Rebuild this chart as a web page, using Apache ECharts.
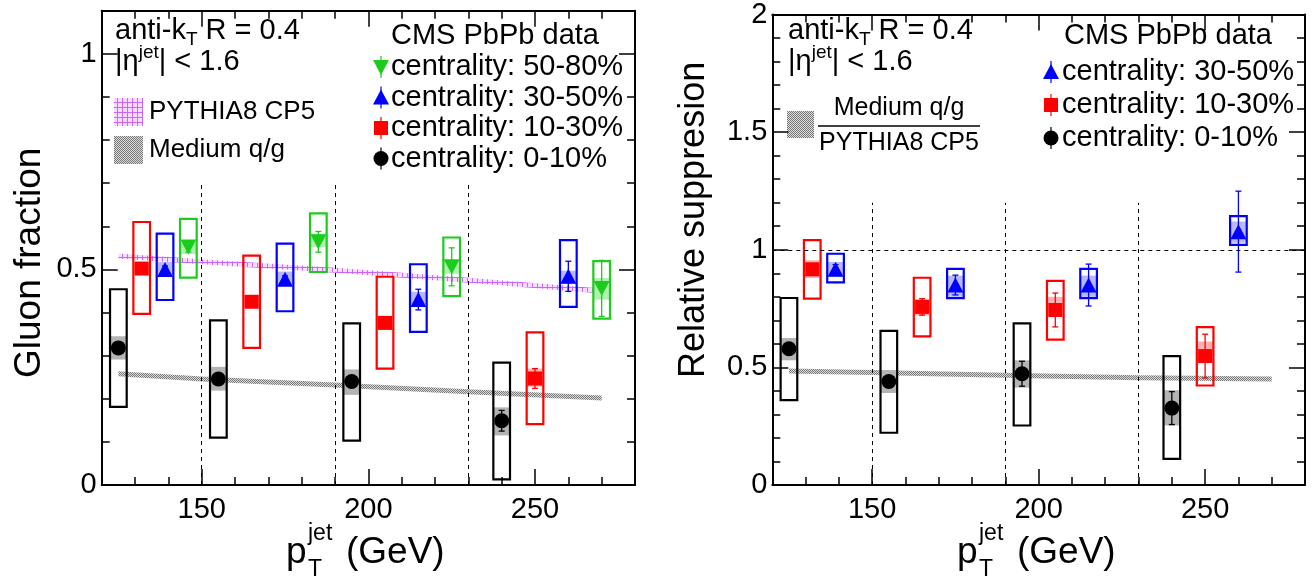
<!DOCTYPE html>
<html>
<head>
<meta charset="utf-8">
<title>Gluon fraction vs jet pT</title>
<script src="https://cdn.jsdelivr.net/npm/echarts@6.0.0/dist/echarts.min.js"></script>
<style>
html, body { margin: 0; padding: 0; background: #fff; }
#chart { width: 1312px; height: 579px; }
</style>
</head>
<body>
<div id="chart"></div>
<script>
// jet pT (GeV) of the points, one per bin, shifted per centrality class
var ptCent0 = [125, 155, 195, 240];
var ptCent10 = [132, 165, 205, 250];
var ptCent30 = [139, 175, 215, 260];
var ptCent50 = [146, 185, 225, 270];
var binEdges = [150, 190, 230];

// left panel: gluon fraction
var gfCent0 = [0.318, 0.246, 0.240, 0.149];
var gfCent0Err = [0.008, 0.008, 0.008, 0.024];
var gfCent0Band = [[0.291, 0.345], [0.219, 0.274], [0.209, 0.268], [0.115, 0.180]];
var gfCent0Sys = [[0.181, 0.454], [0.110, 0.382], [0.103, 0.375], [0.013, 0.284]];

var gfCent10 = [0.502, 0.425, 0.376, 0.247];
var gfCent10Err = [0.008, 0.008, 0.008, 0.023];
var gfCent10Band = [[0.488, 0.516], [0.410, 0.440], [0.360, 0.392], [0.228, 0.270]];
var gfCent10Sys = [[0.397, 0.610], [0.318, 0.532], [0.270, 0.483], [0.141, 0.354]];

var gfCent30 = [0.500, 0.477, 0.430, 0.484];
var gfCent30Err = [0.008, 0.008, 0.024, 0.035];
var gfCent30Band = [[0.486, 0.517], [0.464, 0.495], [0.418, 0.448], [0.466, 0.497]];
var gfCent30Sys = [[0.429, 0.583], [0.403, 0.560], [0.355, 0.512], [0.413, 0.568]];

var gfCent50 = [0.552, 0.564, 0.506, 0.456];
var gfCent50Err = [0.012, 0.024, 0.044, 0.065];
var gfCent50Band = [[0.536, 0.563], [0.552, 0.583], [0.490, 0.521], [0.430, 0.480]];
var gfCent50Sys = [[0.481, 0.617], [0.494, 0.630], [0.438, 0.574], [0.386, 0.519]];

// right panel: relative suppression
var rsCent0 = [0.579, 0.440, 0.473, 0.327];
var rsCent0Err = [0.015, 0.015, 0.053, 0.070];
var rsCent0Band = [[0.530, 0.625], [0.391, 0.488], [0.414, 0.530], [0.253, 0.403]];
var rsCent0Sys = [[0.361, 0.795], [0.222, 0.655], [0.253, 0.687], [0.111, 0.548]];

var rsCent10 = [0.917, 0.757, 0.744, 0.548];
var rsCent10Err = [0.020, 0.035, 0.072, 0.093];
var rsCent10Band = [[0.880, 0.955], [0.720, 0.790], [0.720, 0.800], [0.520, 0.610]];
var rsCent10Sys = [[0.792, 1.041], [0.632, 0.881], [0.618, 0.868], [0.423, 0.671]];

var rsCent30 = [0.917, 0.850, 0.850, 1.077];
var rsCent30Err = [0.020, 0.042, 0.089, 0.172];
var rsCent30Band = [[0.885, 0.948], [0.800, 0.890], [0.800, 0.890], [1.030, 1.120]];
var rsCent30Sys = [[0.861, 0.983], [0.794, 0.919], [0.794, 0.919], [1.021, 1.143]];

// model curves
var theoryPt = [125, 150, 190, 230, 270];
var pythiaGf = [0.531, 0.518, 0.498, 0.475, 0.450];
var mediumGf = [0.258, 0.246, 0.232, 0.216, 0.202];
var mediumRatio = [0.485, 0.478, 0.466, 0.456, 0.451];

// tick labels
var ptTickLabels = [150, 200, 250];
var gfTickLabels = [0, 0.5, 1];
var rsTickLabels = [0, 0.5, 1, 1.5, 2];

var FONT = '"Liberation Sans", Arial, Helvetica, sans-serif';
var GREEN = '#1ccc1c';

function checker(dark, light) {
  var c = document.createElement('canvas');
  c.width = 2; c.height = 2;
  var ctx = c.getContext('2d');
  ctx.fillStyle = light; ctx.fillRect(0, 0, 2, 2);
  ctx.fillStyle = dark; ctx.fillRect(0, 0, 1, 1); ctx.fillRect(1, 1, 1, 1);
  return { image: c, repeat: 'repeat' };
}
function plus(fg, bg) {
  var c = document.createElement('canvas');
  c.width = 5; c.height = 5;
  var ctx = c.getContext('2d');
  ctx.fillStyle = bg; ctx.fillRect(0, 0, 5, 5);
  ctx.fillStyle = fg; ctx.fillRect(2, 0, 1, 5); ctx.fillRect(0, 2, 5, 1);
  return { image: c, repeat: 'repeat' };
}
var grayHatch = checker('#777', '#dcdcdc');
var pinkHatch = plus('#c868f4', '#f6dcff');

function xAxes(g) {
  var list = [];
  ['bottom', 'top'].forEach(function (pos) {
    list.push({
      gridIndex: g, type: 'value', position: pos, min: 120, max: 280, interval: 10,
      axisLine: { show: true, onZero: false, lineStyle: { color: '#000', width: 2 } },
      axisTick: { inside: true, length: 8, lineStyle: { color: '#000', width: 1.5 } },
      axisLabel: { show: false }, splitLine: { show: false }
    });
    list.push({
      gridIndex: g, type: 'value', position: pos, min: 120, max: 280,
      axisLine: { show: false, onZero: false },
      axisTick: { inside: true, length: 16, customValues: ptTickLabels, lineStyle: { color: '#000', width: 1.5 } },
      axisLabel: { show: pos === 'bottom', customValues: ptTickLabels, fontSize: 29, fontFamily: FONT, color: '#000', margin: 10 },
      splitLine: { show: false }
    });
  });
  return list;
}
function yAxes(g, max, labels) {
  var list = [];
  ['left', 'right'].forEach(function (pos) {
    list.push({
      gridIndex: g, type: 'value', position: pos, min: 0, max: max, interval: 0.1,
      axisLine: { show: true, onZero: false, lineStyle: { color: '#000', width: 2 } },
      axisTick: { inside: true, length: 8, lineStyle: { color: '#000', width: 1.5 } },
      axisLabel: { show: false }, splitLine: { show: false }
    });
    list.push({
      gridIndex: g, type: 'value', position: pos, min: 0, max: max,
      axisLine: { show: false, onZero: false },
      axisTick: { inside: true, length: 16, customValues: labels, lineStyle: { color: '#000', width: 1.5 } },
      axisLabel: { show: pos === 'left', customValues: labels, fontSize: 29, fontFamily: FONT, color: '#000', margin: 5,
        formatter: function (v) { return String(+v.toFixed(1)); } },
      splitLine: { show: false }
    });
  });
  return list;
}

function bandSeries(ai, xs, pairs, fill) {
  return {
    type: 'custom', xAxisIndex: ai, yAxisIndex: ai, z: 3, silent: true,
    data: xs.map(function (x, i) { return [x, pairs[i][0], pairs[i][1]]; }),
    renderItem: function (params, api) {
      var a = api.coord([api.value(0) - 2.5, api.value(2)]);
      var b = api.coord([api.value(0) + 2.5, api.value(1)]);
      return { type: 'rect', shape: { x: a[0], y: a[1], width: b[0] - a[0], height: b[1] - a[1] }, style: { fill: fill } };
    }
  };
}
function boxSeries(ai, xs, pairs, color) {
  return {
    type: 'custom', xAxisIndex: ai, yAxisIndex: ai, z: 4, silent: true,
    data: xs.map(function (x, i) { return [x, pairs[i][0], pairs[i][1]]; }),
    renderItem: function (params, api) {
      var a = api.coord([api.value(0) - 2.5, api.value(2)]);
      var b = api.coord([api.value(0) + 2.5, api.value(1)]);
      return { type: 'rect', shape: { x: a[0], y: a[1], width: b[0] - a[0], height: b[1] - a[1] },
        style: { fill: 'none', stroke: color, lineWidth: 2.2 } };
    }
  };
}
function errSeries(ai, xs, vals, errs, color) {
  return {
    type: 'custom', xAxisIndex: ai, yAxisIndex: ai, z: 5, silent: true,
    data: xs.map(function (x, i) { return [x, vals[i] - errs[i], vals[i] + errs[i]]; }),
    renderItem: function (params, api) {
      var lo = api.coord([api.value(0), api.value(1)]);
      var hi = api.coord([api.value(0), api.value(2)]);
      var st = { stroke: color, lineWidth: 1.3 };
      return { type: 'group', children: [
        { type: 'line', shape: { x1: lo[0], y1: lo[1], x2: hi[0], y2: hi[1] }, style: st },
        { type: 'line', shape: { x1: lo[0] - 3, y1: lo[1], x2: lo[0] + 3, y2: lo[1] }, style: st },
        { type: 'line', shape: { x1: hi[0] - 3, y1: hi[1], x2: hi[0] + 3, y2: hi[1] }, style: st }
      ] };
    }
  };
}
function markerSeries(ai, xs, vals, color, symbol, size, rotate) {
  return {
    type: 'scatter', xAxisIndex: ai, yAxisIndex: ai, z: 6, silent: true,
    symbol: symbol, symbolSize: size, symbolRotate: rotate || 0,
    itemStyle: { color: color, opacity: 1 },
    data: xs.map(function (x, i) { return [x, vals[i]]; })
  };
}
function curveSeries(ai, xs, ys, fill) {
  return {
    type: 'custom', xAxisIndex: ai, yAxisIndex: ai, z: 2, silent: true,
    data: xs.map(function (x, i) { return [x, ys[i]]; }),
    renderItem: function (params, api) {
      if (params.dataIndex !== 0) return;
      var up = [], dn = [];
      for (var i = 0; i < xs.length; i++) {
        var p = api.coord([xs[i], ys[i]]);
        up.push([p[0], p[1] - 2.5]);
        dn.unshift([p[0], p[1] + 2.5]);
      }
      return { type: 'polygon', shape: { points: up.concat(dn) }, style: { fill: fill } };
    }
  };
}
function dashSeries(ai, lines) {
  return {
    type: 'line', xAxisIndex: ai, yAxisIndex: ai, data: [], silent: true,
    markLine: {
      silent: true, symbol: 'none', label: { show: false }, animation: false,
      lineStyle: { color: '#000', type: [4, 4], width: 1 },
      data: lines
    }
  };
}

function classSeries(ai, xs, v, err, band, sys, color, bandColor, symbol, size, rot) {
  return [
    bandSeries(ai, xs, band, bandColor),
    boxSeries(ai, xs, sys, color),
    errSeries(ai, xs, v, err, color),
    markerSeries(ai, xs, v, color, symbol, size, rot)
  ];
}

var series = [];
// left panel (axes 0..3)
series.push(dashSeries(0, binEdges.map(function (e) { return [{ coord: [e, 0] }, { coord: [e, 0.7] }]; })));
series.push(curveSeries(0, theoryPt, pythiaGf, pinkHatch));
series.push(curveSeries(0, theoryPt, mediumGf, grayHatch));
series = series.concat(
  classSeries(0, ptCent0, gfCent0, gfCent0Err, gfCent0Band, gfCent0Sys, '#000', '#b4b4b4', 'circle', 15),
  classSeries(0, ptCent10, gfCent10, gfCent10Err, gfCent10Band, gfCent10Sys, '#ff0000', '#ffb0b0', 'rect', 14),
  classSeries(0, ptCent30, gfCent30, gfCent30Err, gfCent30Band, gfCent30Sys, '#0000ff', '#b8b8ff', 'triangle', [16, 15]),
  classSeries(0, ptCent50, gfCent50, gfCent50Err, gfCent50Band, gfCent50Sys, GREEN, '#b0f0b0', 'triangle', [16, 15], 180)
);
// right panel (axes 4..7)
series.push(dashSeries(4, binEdges.map(function (e) { return [{ coord: [e, 0] }, { coord: [e, 1.2] }]; })
  .concat([[{ coord: [120, 1] }, { coord: [280, 1] }]])));
series.push(curveSeries(4, theoryPt, mediumRatio, grayHatch));
series = series.concat(
  classSeries(4, ptCent0, rsCent0, rsCent0Err, rsCent0Band, rsCent0Sys, '#000', '#b4b4b4', 'circle', 15),
  classSeries(4, ptCent10, rsCent10, rsCent10Err, rsCent10Band, rsCent10Sys, '#ff0000', '#ffb0b0', 'rect', 14),
  classSeries(4, ptCent30, rsCent30, rsCent30Err, rsCent30Band, rsCent30Sys, '#0000ff', '#b8b8ff', 'triangle', [16, 15])
);

// ---- legend and titles drawn as graphic elements ----
function txt(x, y, text, size, align) {
  return { type: 'text', x: x, y: y, silent: true,
    style: { text: text, fontSize: size, fontFamily: FONT, fill: '#000',
      align: align || 'left', verticalAlign: 'middle', textAlign: align || 'left', textVerticalAlign: 'middle' } };
}
function richTxt(x, y, text, size) {
  var t = txt(x, y, text, size);
  t.style.rich = {
    a: { fontSize: size, fontFamily: FONT, fill: '#000', lineHeight: size + 8 },
    s: { fontSize: Math.round(size * 0.65), fontFamily: FONT, fill: '#000', verticalAlign: 'bottom' },
    u: { fontSize: Math.round(size * 0.65), fontFamily: FONT, fill: '#000', verticalAlign: 'top' }
  };
  return t;
}
function legMarker(x, y, kind, color) {
  var el;
  if (kind === 'circle') el = { type: 'circle', shape: { cx: x, cy: y, r: 7.5 } };
  else if (kind === 'rect') el = { type: 'rect', shape: { x: x - 7, y: y - 7, width: 14, height: 14 } };
  else if (kind === 'up') el = { type: 'polygon', shape: { points: [[x, y - 8], [x + 8, y + 7], [x - 8, y + 7]] } };
  else el = { type: 'polygon', shape: { points: [[x, y + 8], [x + 8, y - 7], [x - 8, y - 7]] } };
  el.style = { fill: color };
  el.silent = true;
  return [el, { type: 'line', silent: true, shape: { x1: x, y1: y - 11, x2: x, y2: y + 11 }, style: { stroke: color, lineWidth: 1.2 } }];
}

var graphics = [];
[115, 788].forEach(function (x0) {
  graphics.push(richTxt(x0, 31, '{a|anti-k}{s|T}{a| R = 0.4}', 29));
  graphics.push(richTxt(x0, 62, '{a||η}{u|jet}{a|| < 1.6}', 29));
});
// left panel legend
graphics.push({ type: 'rect', silent: true, shape: { x: 114, y: 98, width: 29, height: 28 }, style: { fill: pinkHatch } });
graphics.push(txt(149, 112, 'PYTHIA8 CP5', 26));
graphics.push({ type: 'rect', silent: true, shape: { x: 114, y: 136, width: 29, height: 28 }, style: { fill: grayHatch } });
graphics.push(txt(149, 150, 'Medium q/g', 26));
graphics.push(txt(391, 36, 'CMS PbPb data', 29));
[['down', GREEN, 'centrality: 50-80%'], ['up', '#0000ff', 'centrality: 30-50%'],
 ['rect', '#ff0000', 'centrality: 10-30%'], ['circle', '#000', 'centrality: 0-10%']].forEach(function (r, i) {
  var y = 67 + i * 30.5;
  graphics = graphics.concat(legMarker(381, y, r[0], r[1]));
  graphics.push(txt(391, y, r[2], 29));
});
// right panel legend
graphics.push({ type: 'rect', silent: true, shape: { x: 787, y: 111, width: 27, height: 27 }, style: { fill: grayHatch } });
graphics.push(txt(899, 108, 'Medium q/g', 25, 'center'));
graphics.push({ type: 'line', silent: true, shape: { x1: 818, y1: 126, x2: 980, y2: 126 }, style: { stroke: '#000', lineWidth: 1.5 } });
graphics.push(txt(899, 143, 'PYTHIA8 CP5', 25, 'center'));
graphics.push(txt(1064, 36, 'CMS PbPb data', 29));
[['up', '#0000ff', 'centrality: 30-50%'], ['rect', '#ff0000', 'centrality: 10-30%'],
 ['circle', '#000', 'centrality: 0-10%']].forEach(function (r, i) {
  var y = 72 + i * 33;
  graphics = graphics.concat(legMarker(1051, y, r[0], r[1]));
  graphics.push(txt(1062, y, r[2], 29));
});
// axis titles
function yTitle(x, text, size) {
  return { type: 'text', x: x, y: 378, rotation: Math.PI / 2, silent: true,
    style: { text: text, fontSize: size, fontFamily: FONT, fill: '#000', align: 'left', verticalAlign: 'middle', textAlign: 'left', textVerticalAlign: 'middle' } };
}
graphics.push(yTitle(30, 'Gluon fraction', 37));
graphics.push(yTitle(694, 'Relative suppresion', 36));
[286, 957].forEach(function (x0) {
  graphics.push(txt(x0, 553, 'p', 37));
  graphics.push(txt(x0 + 22, 534, 'jet', 23));
  graphics.push(txt(x0 + 22, 570, 'T', 23));
  graphics.push(txt(x0 + 60, 553, '(GeV)', 37));
});

var option = {
  animation: false,
  backgroundColor: '#fff',
  grid: [
    { left: 101.7, top: 10.7, width: 533.3, height: 474.3 },
    { left: 772.3, top: 10.5, width: 532.7, height: 474.5 }
  ],
  xAxis: xAxes(0).concat(xAxes(1)),
  yAxis: yAxes(0, 1.1, gfTickLabels).concat(yAxes(1, 2, rsTickLabels)),
  series: series,
  graphic: graphics
};

var chart = echarts.init(document.getElementById('chart'));
chart.setOption(option);
</script>
</body>
</html>
